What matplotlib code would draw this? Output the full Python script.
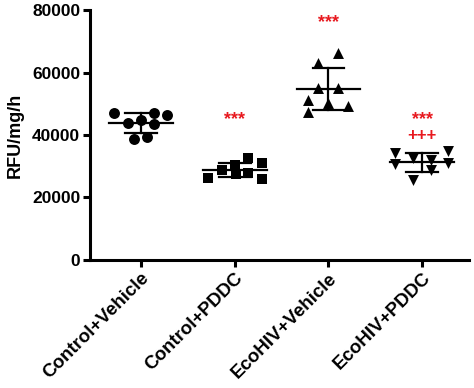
import matplotlib
matplotlib.use("Agg")
import matplotlib.pyplot as plt
import numpy as np

plt.rcParams['font.family'] = ['Liberation Sans', 'DejaVu Sans']
plt.rcParams['font.weight'] = 'bold'

categories = ["Control+Vehicle", "Control+PDDC", "EcoHIV+Vehicle", "EcoHIV+PDDC"]
control_vehicle = [47040, 47040, 46400, 43840, 44800, 43520, 38720, 39360]
control_pddc = [26240, 28800, 30400, 32640, 31040, 27520, 27840, 25920]
ecohiv_vehicle = [63040, 66240, 55040, 55040, 51200, 50240, 49280, 47360]
ecohiv_pddc = [34240, 30720, 32640, 32000, 34880, 31040, 28800, 25600]
yticks = [0, 20000, 40000, 60000, 80000]
star_labels = [None, "***", "***", "***"]
plus_labels = [None, None, None, "+++"]

groups = [control_vehicle, control_pddc, ecohiv_vehicle, ecohiv_pddc]
markers = ['o', 's', '^', 'v']
# horizontal scatter offsets (pixels / category spacing)
offsets_px = [
    [-27, 13, 26, -13, 0, 13, -7, 6],
    [-27, -13, 0, 13, 27, 1, 13, 27],
    [-10, 10, -10, 10, -20, 0, 20, -20],
    [-27, -27, -9, 9, 26, 26, 9, -9],
]

fig = plt.figure(figsize=(4.74, 3.88), dpi=100)
ax = fig.add_axes([0.19, 0.33, 0.80, 0.644])

for i, (vals, m, offs) in enumerate(zip(groups, markers, offsets_px)):
    v = np.array(vals, dtype=float)
    xs = i + np.array(offs) / 94.0
    ax.scatter(xs, v, marker=m, s=62, color='black', zorder=3, linewidths=0)
    mean = v.mean()
    sd = v.std(ddof=1)
    ax.plot([i - 0.34, i + 0.34], [mean, mean], color='black', lw=1.6, zorder=4)
    ax.plot([i - 0.17, i + 0.17], [mean + sd, mean + sd], color='black', lw=1.6, zorder=4)
    ax.plot([i - 0.17, i + 0.17], [mean - sd, mean - sd], color='black', lw=1.6, zorder=4)
    ax.plot([i, i], [mean - sd, mean + sd], color='black', lw=1.6, zorder=4)

star_y = [None, 44800, 76000, 44800]
plus_y = [None, None, None, 40000]
red = '#e8191f'
for i in range(len(categories)):
    if star_labels[i]:
        ax.text(i, star_y[i], star_labels[i], color=red, ha='center', va='center',
                fontsize=13, fontweight='bold')
    if plus_labels[i]:
        ax.text(i, plus_y[i], plus_labels[i], color=red, ha='center', va='center',
                fontsize=12, fontweight='bold')

ax.set_xlim(-0.54, 3.5)
ax.set_ylim(0, 80000)
ax.set_yticks(yticks)
ax.set_yticklabels([str(t) for t in yticks], fontsize=12.5, fontweight='bold')
ax.set_xticks(range(len(categories)))
ax.set_xticklabels(categories, rotation=45, ha='right', rotation_mode='anchor',
                   fontsize=13.5, fontweight='bold')
ax.set_ylabel("RFU/mg/h", fontsize=13, fontweight='bold', labelpad=6)

for s in ['top', 'right']:
    ax.spines[s].set_visible(False)
for s in ['left', 'bottom']:
    ax.spines[s].set_linewidth(2.2)
ax.tick_params(axis='both', width=2.2, length=5, direction='out', pad=2)

fig.savefig("out.png", dpi=100)
